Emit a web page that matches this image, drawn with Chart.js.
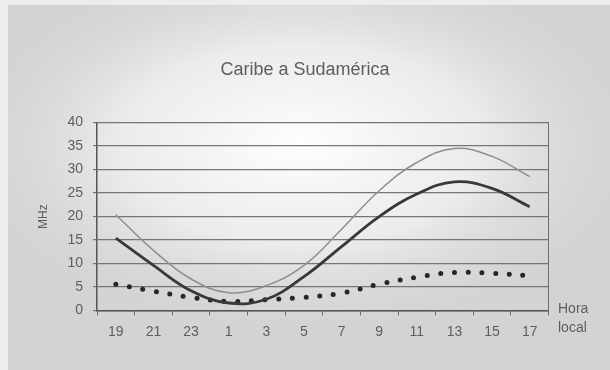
<!DOCTYPE html>
<html>
<head>
<meta charset="utf-8">
<title>Caribe a Sudamérica</title>
<script src="https://cdn.jsdelivr.net/npm/chart.js@4/dist/chart.umd.min.js"></script>
<style>
  html, body { margin: 0; padding: 0; background: #d6d6d6; }
  #wrap { width: 610px; height: 370px; }
</style>
</head>
<body>
<div id="wrap"><canvas id="hfChart" width="610" height="370"></canvas></div>
<script>
// ---- data ----
const horas = ['19', '21', '23', '1', '3', '5', '7', '9', '11', '13', '15', '17'];
const mufValues = [20.4, 12.8, 6.7, 3.8, 5.3, 9.6, 17.3, 25.5, 31.5, 34.5, 32.8, 28.5];
const fotValues = [15.4, 9.6, 4.2, 1.6, 2.4, 7.2, 13.6, 20.0, 24.8, 27.4, 26.0, 22.1];
const lufValues = [5.6, 4.1, 2.8, 1.9, 2.3, 2.8, 3.7, 5.6, 7.1, 8.1, 7.9, 7.4];
const yTicks = [0, 5, 10, 15, 20, 25, 30, 35, 40];

const textColor = '#5e5e5e';
const fontFamily = '"Liberation Sans", Arial, sans-serif';

// background glow, frame strips and the "Hora local" label
const decor = {
    id: 'decor',
    beforeDraw(chart) {
        const ctx = chart.ctx;
        ctx.save();
        ctx.fillStyle = '#d3d3d3';
        ctx.fillRect(0, 0, chart.width, chart.height);
        // soft light spot behind the plot
        ctx.save();
        ctx.translate(300, 145);
        ctx.scale(1.8, 1);
        const g = ctx.createRadialGradient(0, 0, 0, 0, 0, 200);
        g.addColorStop(0, 'rgba(254,254,254,1)');
        g.addColorStop(0.5, 'rgba(240,240,240,0.85)');
        g.addColorStop(1, 'rgba(211,211,211,0)');
        ctx.fillStyle = g;
        ctx.fillRect(-200, -200, 400, 400);
        ctx.restore();
        ctx.fillStyle = '#ededed';
        ctx.fillRect(0, 0, chart.width, 5);
        ctx.fillRect(0, 0, 8, chart.height);
        ctx.restore();
    },
    afterDraw(chart) {
        const ctx = chart.ctx;
        ctx.save();
        ctx.fillStyle = textColor;
        ctx.font = '14px ' + fontFamily;
        ctx.textAlign = 'left';
        ctx.textBaseline = 'middle';
        ctx.fillText('Hora', 558, 309);
        ctx.fillText('local', 558, 328);
        ctx.restore();
    }
};

new Chart(document.getElementById('hfChart').getContext('2d'), {
    type: 'line',
    data: {
        labels: horas,
        datasets: [
            {
                label: 'MUF',
                data: mufValues,
                borderColor: '#8e8e8e',
                borderWidth: 1.5,
                tension: 0.4,
                pointRadius: 0,
                fill: false
            },
            {
                label: 'FOT',
                data: fotValues,
                borderColor: '#383838',
                borderWidth: 2.8,
                tension: 0.4,
                pointRadius: 0,
                fill: false
            },
            {
                label: 'LUF',
                data: lufValues,
                borderColor: '#262626',
                borderWidth: 5,
                borderDash: [0, 13.7],
                borderCapStyle: 'round',
                tension: 0.4,
                pointRadius: 0,
                fill: false
            }
        ]
    },
    options: {
        responsive: false,
        animation: false,
        layout: { padding: 0 },
        plugins: {
            legend: { display: false },
            tooltip: { enabled: false },
            title: {
                display: true,
                text: 'Caribe a Sudamérica',
                color: textColor,
                font: { family: fontFamily, size: 18, weight: 'normal' },
                padding: { top: 59, bottom: 42 }
            }
        },
        scales: {
            x: {
                type: 'category',
                offset: true,
                grid: {
                    offset: true,
                    drawOnChartArea: false,
                    drawTicks: true,
                    tickLength: 5,
                    color: '#6e6e6e'
                },
                border: { display: true, color: '#555', width: 1.5 },
                ticks: {
                    color: textColor,
                    font: { family: fontFamily, size: 14 },
                    padding: 8,
                    maxRotation: 0,
                    autoSkip: false
                },
                afterFit(scale) { scale.height = 59.5; }
            },
            y: {
                min: 0,
                max: 40,
                afterBuildTicks(scale) { scale.ticks = yTicks.map(v => ({ value: v })); },
                grid: {
                    color: '#767676',
                    lineWidth: 1.2,
                    drawTicks: true,
                    tickLength: 4
                },
                border: { display: true, color: '#555', width: 1.5 },
                ticks: {
                    color: textColor,
                    font: { family: fontFamily, size: 14 },
                    padding: 10
                },
                title: {
                    display: true,
                    text: 'MHz',
                    color: textColor,
                    font: { family: fontFamily, size: 12 },
                    padding: { top: 36, bottom: 0 }
                },
                afterFit(scale) { scale.width = 97; }
            },
            // right frame edge of the plot
            yRight: {
                position: 'right',
                min: 0,
                max: 40,
                grid: { drawOnChartArea: false, drawTicks: false },
                border: { display: true, color: '#6e6e6e', width: 1 },
                ticks: { display: false },
                afterFit(scale) { scale.width = 61.5; }
            }
        }
    },
    plugins: [decor]
});
</script>
</body>
</html>
